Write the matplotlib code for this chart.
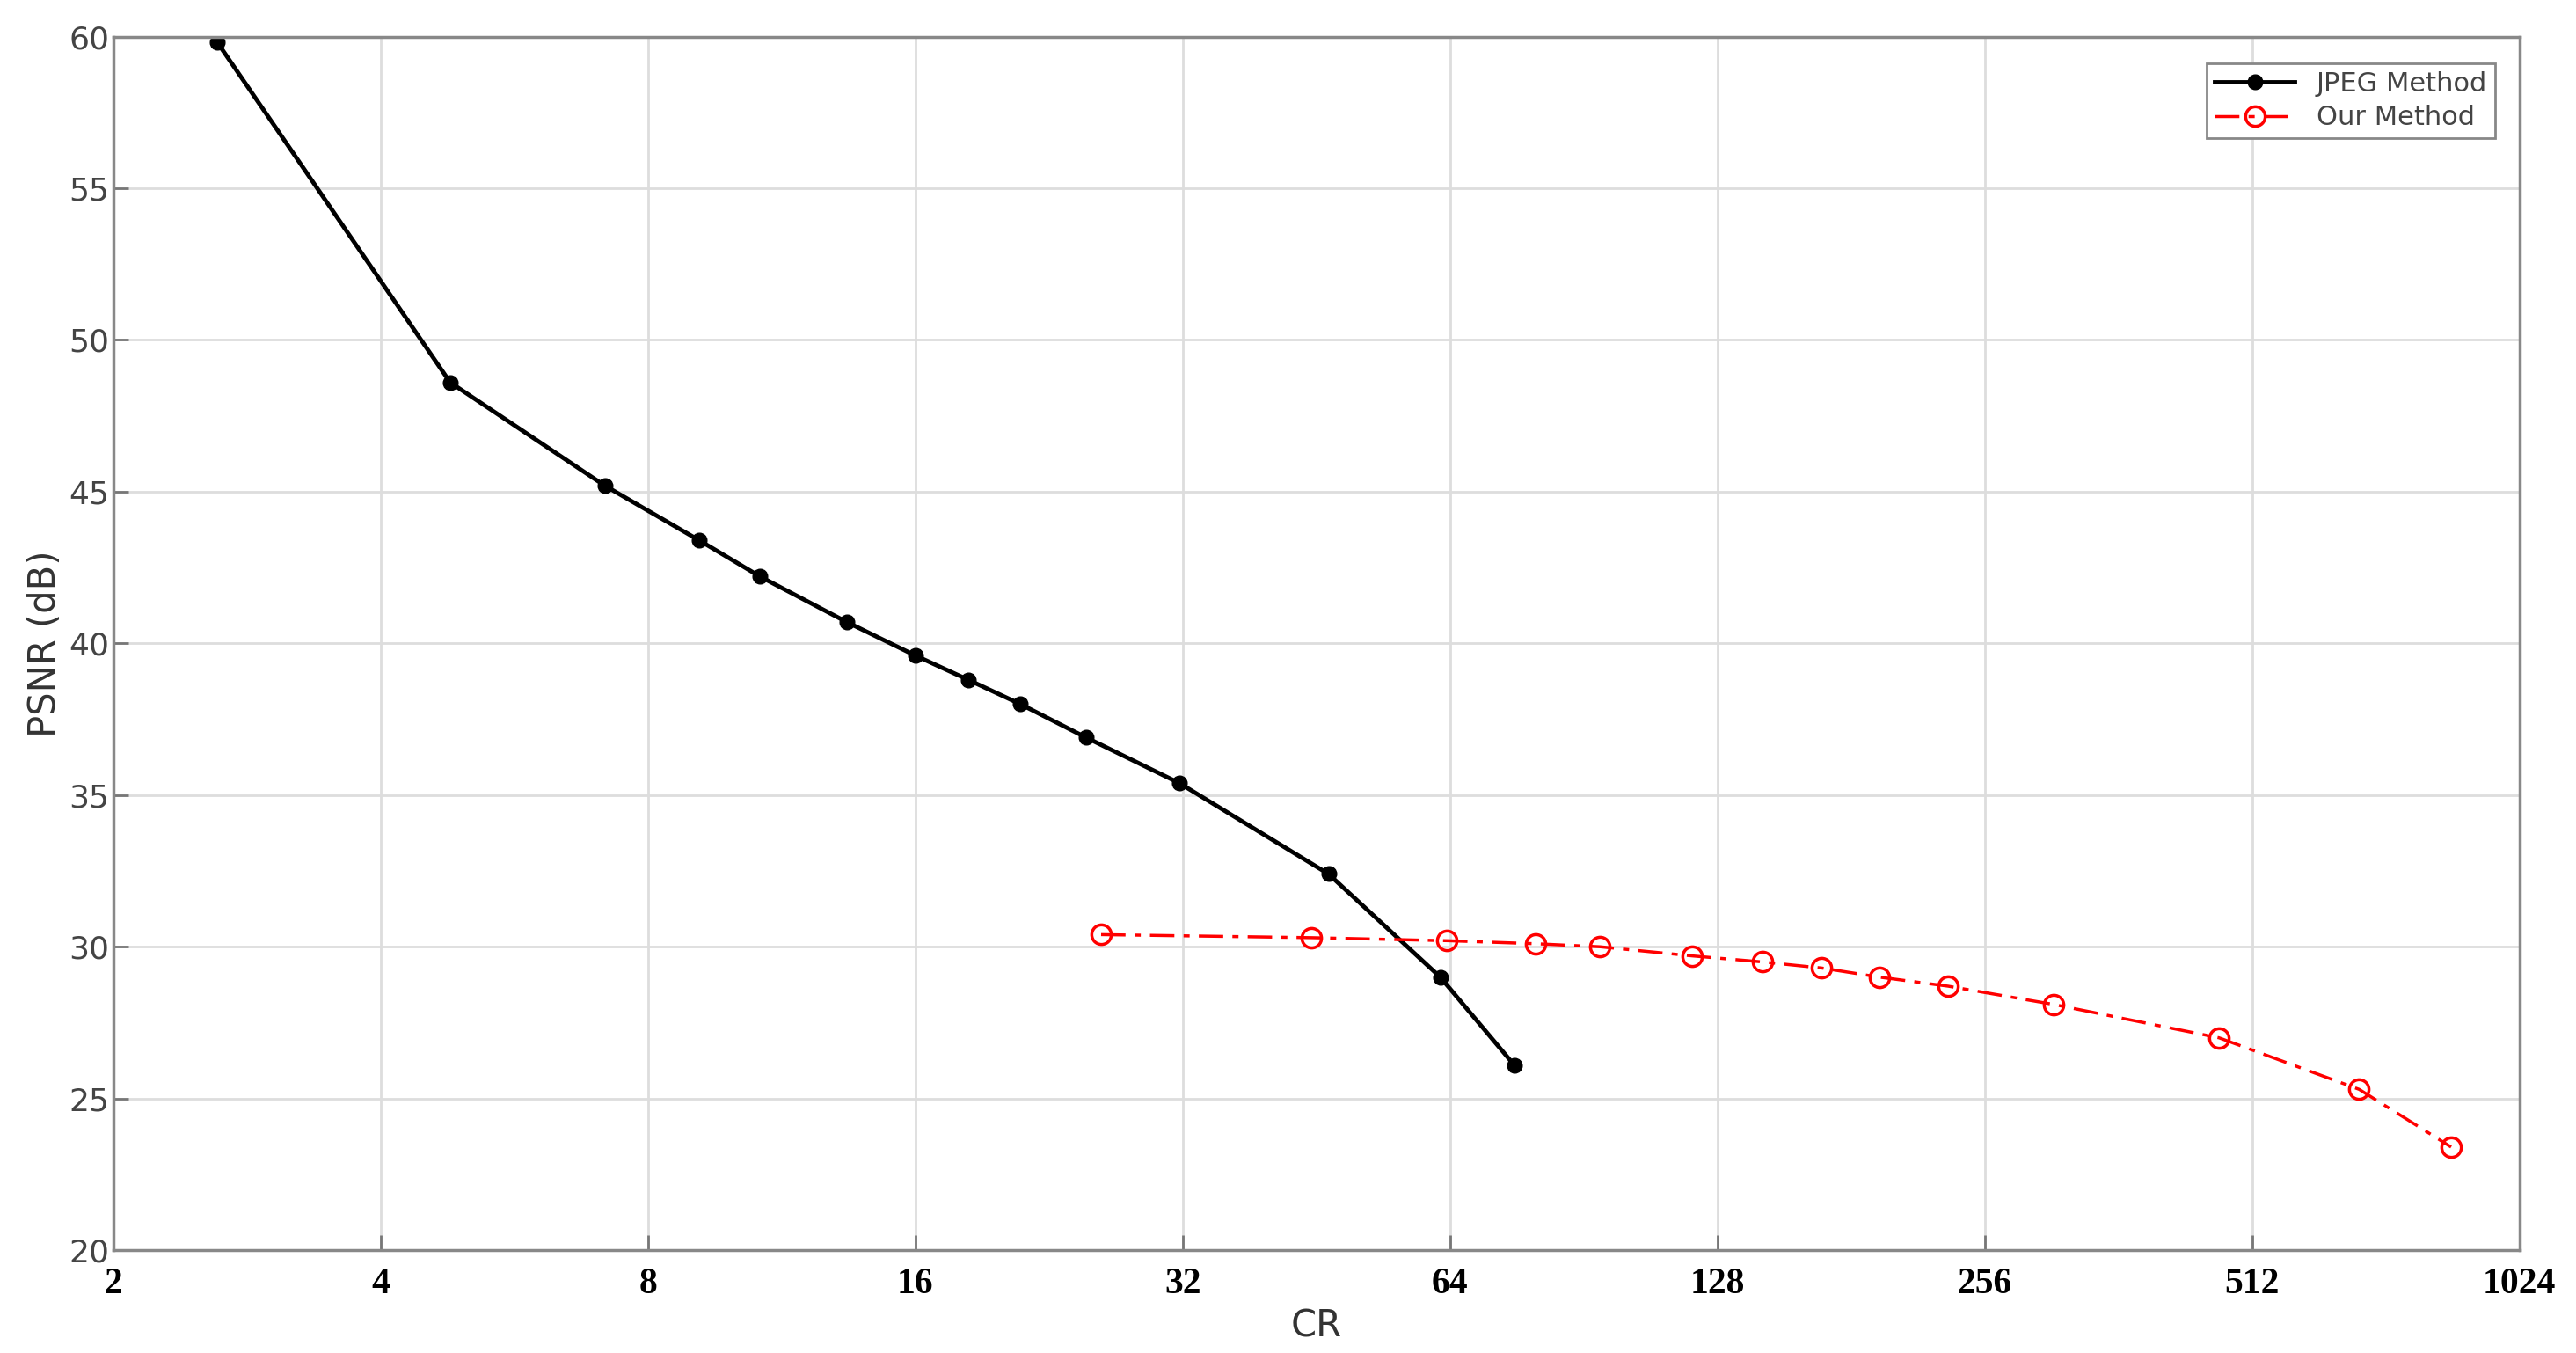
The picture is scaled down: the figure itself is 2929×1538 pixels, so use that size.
import matplotlib
matplotlib.use("Agg")
import matplotlib.pyplot as plt

# valeurs (CR, PSNR en dB)
jpeg_cr = [2.62, 4.79, 7.15, 9.13, 10.7, 13.4, 16.0, 18.35, 21.0, 24.9, 31.7, 46.7, 62.4, 75.6]
jpeg_psnr = [59.8, 48.6, 45.2, 43.4, 42.2, 40.7, 39.6, 38.8, 38.0, 36.9, 35.4, 32.4, 29.0, 26.1]
ours_cr = [25.9, 44.7, 63.5, 79.9, 94.4, 119.8, 143.9, 167.7, 194.8, 233, 306, 470, 676, 858]
ours_psnr = [30.4, 30.3, 30.2, 30.1, 30.0, 29.7, 29.5, 29.3, 29.0, 28.7, 28.1, 27.0, 25.3, 23.4]
x_ticks = [2, 4, 8, 16, 32, 64, 128, 256, 512, 1024]
y_ticks = [20, 25, 30, 35, 40, 45, 50, 55, 60]

fig = plt.figure(figsize=(29.29, 15.38), dpi=100)
ax = fig.add_axes([0.044, 0.076, 0.934, 0.897])

ax.plot(jpeg_cr, jpeg_psnr, "-", color="black", lw=3.5, marker="o", ms=12,
        label="JPEG Method")
ax.plot(ours_cr, ours_psnr, color="red", lw=2.5, ls=(0, (8, 3, 2, 3)), marker="o",
        ms=16, mfc="none", mew=2.5, label="Our Method")

ax.set_xscale("log", base=2)
ax.set_xlim(2, 1024)
ax.set_ylim(20, 60)
ax.set_xticks(x_ticks)
ax.set_xticklabels([str(t) for t in x_ticks], fontfamily="Liberation Serif",
                   fontweight="bold", fontsize=30)
ax.minorticks_off()
ax.set_yticks(y_ticks)
ax.tick_params(axis="y", labelsize=26, labelcolor="#444444")
ax.tick_params(axis="x", pad=14)
ax.tick_params(direction="in", length=12, color="#777777", width=2)
ax.grid(True, color="#dddddd", lw=2)
for s in ax.spines.values():
    s.set_color("#888888")
    s.set_linewidth(2.5)

ax.set_xlabel("CR", fontsize=30, color="#333333", labelpad=6)
ax.set_ylabel("PSNR (dB)", fontsize=30, color="#333333")

leg = ax.legend(loc="upper right", fontsize=22, fancybox=False, framealpha=1,
                borderpad=0.3, handlelength=3, labelspacing=0.3,
                borderaxespad=0, bbox_to_anchor=(0.99, 0.978))
leg.get_frame().set_edgecolor("#888888")
leg.get_frame().set_linewidth(2)
for t in leg.get_texts():
    t.set_color("#444444")

fig.savefig("out.png", dpi=100)
